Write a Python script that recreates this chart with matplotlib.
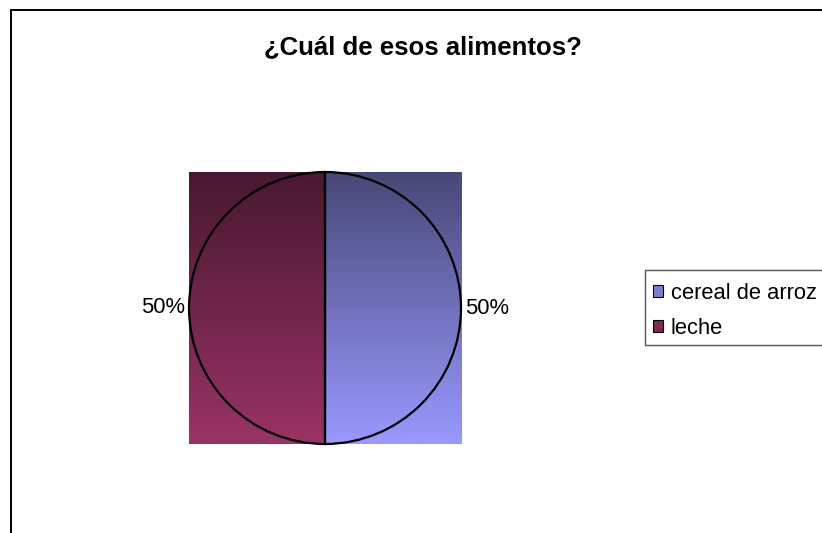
import numpy as np
import matplotlib.pyplot as plt
from matplotlib.patches import Patch, Rectangle
from matplotlib.lines import Line2D
from matplotlib.colors import to_rgb

# ------------------------------------------------------------
# Datos
# ------------------------------------------------------------
titulo = "¿Cuál de esos alimentos?"
categorias = ["cereal de arroz", "leche"]
valores = [50, 50]
colores = ["#9999ff", "#993366"]

W, H = 822, 533
fig = plt.figure(figsize=(W / 100, H / 100), dpi=100)
plt.rcParams['font.family'] = ['Liberation Sans', 'DejaVu Sans']

# marco del grafico (solo se ven los bordes izquierdo y superior)
fx, fy = 11 / W, 1 - 10 / H
fig.add_artist(Line2D([fx, fx, 1.0], [0.0, fy, fy], transform=fig.transFigure,
                      color='black', lw=1.4, solid_joinstyle='miter'))

fig.text(423 / W, 1 - 47 / H, titulo, ha='center', va='center',
         fontsize=18.5, fontweight='bold')

# ejes del pastel: centro (325, 308) px, radio 136 px
cx, cy, r = 325, 308, 136
ax = fig.add_axes([(cx - r) / W, (H - cy - r) / H, 2 * r / W, 2 * r / H])

total = sum(valores)
etiquetas = [f"{v / total * 100:.0f}%" for v in valores]
wedges, textos = ax.pie(valores, labels=etiquetas, startangle=90,
                        counterclock=False, labeldistance=1.03,
                        wedgeprops=dict(facecolor='none', edgecolor='black',
                                        linewidth=1.6, zorder=3),
                        textprops=dict(fontsize=15.8))

# degradado vertical (oscuro arriba, claro abajo) en el rectangulo de cada porcion
t = np.linspace(0, 1, 256)[:, None, None]
for w, c in zip(wedges, colores):
    base = np.array(to_rgb(c))[None, None, :]
    grad = base * (0.47 + 0.53 * t)
    ext = w.get_path().get_extents()
    ax.imshow(grad, extent=[ext.x0, ext.x1, ext.y0, ext.y1], origin='upper',
              aspect='auto', interpolation='bilinear', zorder=1)

ax.set_xlim(-1, 1)
ax.set_ylim(-1, 1)
ax.set_aspect('equal')
ax.axis('off')

# recuadro de la leyenda (se sale por el borde derecho)
fig.add_artist(Rectangle((645 / W, 1 - 345 / H), 200 / W, 75 / H,
                         transform=fig.transFigure, facecolor='white',
                         edgecolor='#555555', lw=1.0, zorder=4))

handles = [Patch(facecolor=np.array(to_rgb(c)) * 0.82, edgecolor='black', lw=0.8)
           for c in colores]
leg = fig.legend(handles, categorias, loc='upper left',
                 bbox_to_anchor=(645 / W, 1 - 275 / H), borderaxespad=0,
                 fontsize=15.8, handlelength=0.45, handleheight=0.45,
                 handletextpad=0.38, borderpad=0.35, labelspacing=0.65,
                 frameon=False)
leg.set_zorder(5)

fig.savefig("out.png", dpi=100)
